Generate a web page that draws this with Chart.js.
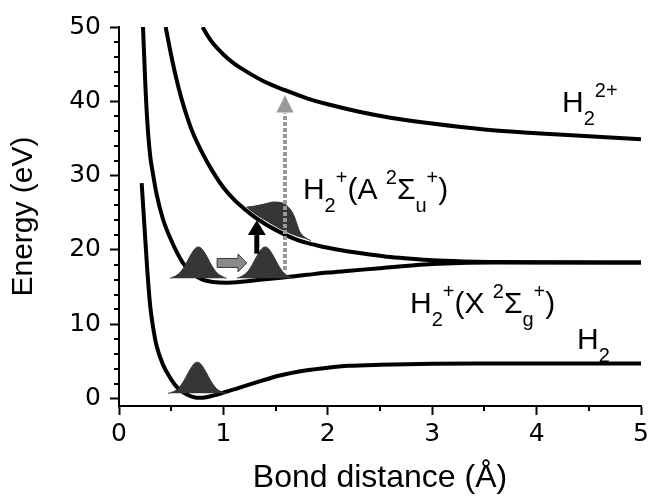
<!DOCTYPE html>
<html>
<head>
<meta charset="utf-8">
<script src="https://cdn.jsdelivr.net/npm/chart.js@4.4.0/dist/chart.umd.min.js"></script>
<style>
  html, body { margin: 0; padding: 0; background: #fff; }
</style>
</head>
<body>
<canvas id="chart" width="656" height="497"></canvas>
<script>
// axis ticks
const xTicks = [0, 1, 2, 3, 4, 5];
const xMinor = [0.5, 1.5, 2.5, 3.5, 4.5];
const yTicks = [0, 10, 20, 30, 40, 50];
const yMinor = [2, 4, 6, 8, 12, 14, 16, 18, 22, 24, 26, 28, 32, 34, 36, 38, 42, 44, 46, 48];

// potential curves, bond distance (Å) -> energy (eV)
const h2R = [0.217, 0.24, 0.27, 0.3, 0.33, 0.36, 0.42, 0.49, 0.55, 0.6, 0.65, 0.7, 0.75, 0.8, 0.9, 1.0, 1.15, 1.3, 1.54, 1.8, 2.0, 2.2, 2.5, 3.0, 3.5, 4.0, 5.0];
const h2E = [29, 24, 17.5, 12.3, 9.3, 7.1, 4.6, 2.8, 1.6, 1.0, 0.55, 0.25, 0.1, 0.12, 0.4, 0.8, 1.45, 2.1, 3.1, 3.8, 4.15, 4.4, 4.55, 4.68, 4.72, 4.73, 4.73];

const xR = [0.23, 0.25, 0.27, 0.3, 0.32, 0.36, 0.42, 0.5, 0.61, 0.7, 0.8, 0.9, 1.03, 1.2, 1.4, 1.57, 1.8, 2.0, 2.21, 2.5, 2.8, 3.0, 3.27, 3.6, 4.0, 5.0];
const xE = [50, 43, 37.5, 32.5, 30.7, 27.5, 24.2, 21.3, 18.3, 16.9, 16.0, 15.7, 15.6, 15.75, 16.05, 16.3, 16.65, 16.95, 17.2, 17.55, 17.9, 18.1, 18.25, 18.3, 18.3, 18.3];

const aR = [0.447, 0.5, 0.55, 0.6, 0.65, 0.7, 0.8, 0.9, 1.0, 1.1, 1.22, 1.3, 1.4, 1.5, 1.6, 1.7, 1.8, 1.9, 2.0, 2.2, 2.4, 2.6, 2.8, 3.0, 3.3, 3.6, 4.0, 5.0];
const aE = [50, 46.2, 43.0, 40.3, 38.0, 36.0, 33.0, 30.5, 28.4, 26.8, 25.3, 24.4, 23.5, 22.7, 22.0, 21.4, 20.95, 20.6, 20.3, 19.8, 19.4, 19.05, 18.8, 18.6, 18.45, 18.38, 18.33, 18.3];

const dR = [0.8, 0.85, 0.9, 1.0, 1.1, 1.21, 1.4, 1.59, 1.8, 2.0, 2.3, 2.6, 3.0, 3.5, 4.0, 4.5, 5.0];
const dE = [50, 48.8, 47.8, 46.3, 45.1, 44.1, 42.6, 41.5, 40.4, 39.6, 38.6, 37.8, 37.0, 36.2, 35.7, 35.3, 34.9];

// wave packets
const pkt1R = [0.47, 0.52, 0.57, 0.62, 0.67, 0.72, 0.75, 0.78, 0.83, 0.88, 0.93, 0.98, 1.03];
const pkt1E = [0.7, 0.92, 1.4, 2.35, 3.65, 4.7, 4.9, 4.7, 3.65, 2.35, 1.4, 0.92, 0.7];
const pkt2R = [0.49, 0.53, 0.58, 0.63, 0.68, 0.73, 0.76, 0.79, 0.84, 0.89, 0.94, 0.99, 1.03];
const pkt2E = [16.2, 16.42, 16.9, 17.85, 19.15, 20.2, 20.4, 20.2, 19.15, 17.85, 16.9, 16.42, 16.2];
const pkt3R = [1.13, 1.17, 1.22, 1.27, 1.32, 1.37, 1.40, 1.43, 1.48, 1.53, 1.58, 1.63, 1.67];
const pkt3E = [16.2, 16.42, 16.9, 17.85, 19.15, 20.2, 20.4, 20.2, 19.15, 17.85, 16.9, 16.42, 16.2];
const pktAR = [1.22, 1.3, 1.4, 1.48, 1.56, 1.62, 1.67, 1.70, 1.73, 1.78, 1.84];
const pktATop = [25.75, 25.9, 26.2, 26.45, 26.35, 25.8, 24.8, 23.7, 22.5, 21.7, 21.25];
const pktALow = [25.75, 24.85, 23.95, 23.3, 22.7, 22.3, 22.0, 21.85, 21.7, 21.5, 21.25];

// dotted excitation line
const dotR = [1.59, 1.59];
const dotE = [17.3, 38.4];

const FONT = 'Liberation Sans, Arial, sans-serif';
const TICKFONT = 'DejaVu Sans, sans-serif';
const PKT = '#363636';

const pts = (r, e) => r.map((v, i) => ({ x: v, y: e[i] }));

function curve(r, e) {
  return { data: pts(r, e), borderColor: '#000', borderWidth: 4, cubicInterpolationMode: 'monotone', fill: false, order: 3, clip: 0 };
}
function packet(r, e, base) {
  return { data: pts(r, e), borderColor: PKT, backgroundColor: PKT, borderWidth: 1, cubicInterpolationMode: 'monotone', fill: { value: base }, order: 2 };
}

function drawRich(ctx, x, y, parts) {
  let cx = x;
  parts.forEach(([t, k]) => {
    ctx.font = (k === 'n' ? 30 : 20) + 'px ' + FONT;
    const dy = k === 'sub' ? 13 : (k === 'sup' ? -15 : 0);
    ctx.fillText(t, cx, y + dy);
    cx += ctx.measureText(t).width;
  });
}

const extras = {
  id: 'extras',
  afterDatasetsDraw(chart) {
    const ctx = chart.ctx;
    const sx = chart.scales.x, sy = chart.scales.y;
    const px = v => sx.getPixelForValue(v), py = v => sy.getPixelForValue(v);
    ctx.save();

    // gray block arrow (wave packet moving out)
    const y0 = py(18.25), xa = px(0.94), xb = px(1.14), xt = px(1.223);
    ctx.beginPath();
    ctx.moveTo(xa, y0 - 4.5); ctx.lineTo(xb, y0 - 4.5); ctx.lineTo(xb, y0 - 9);
    ctx.lineTo(xt, y0); ctx.lineTo(xb, y0 + 9); ctx.lineTo(xb, y0 + 4.5);
    ctx.lineTo(xa, y0 + 4.5); ctx.closePath();
    ctx.fillStyle = '#8a8a8a'; ctx.fill();
    ctx.strokeStyle = '#3a3a3a'; ctx.lineWidth = 1; ctx.stroke();

    // black excitation arrow
    const bx = px(1.32);
    ctx.fillStyle = '#000';
    ctx.fillRect(bx - 2.5, py(22.0), 5, py(19.5) - py(22.0));
    ctx.beginPath();
    ctx.moveTo(bx - 9, py(22.0)); ctx.lineTo(bx, py(24.0)); ctx.lineTo(bx + 9, py(22.0));
    ctx.closePath(); ctx.fill();

    // head of dotted arrow
    const gx = px(1.59);
    ctx.fillStyle = '#999';
    ctx.beginPath();
    ctx.moveTo(gx - 8.5, py(38.5)); ctx.lineTo(gx, py(40.8)); ctx.lineTo(gx + 8.5, py(38.5));
    ctx.closePath(); ctx.fill();

    // state labels
    ctx.fillStyle = '#000';
    ctx.textBaseline = 'alphabetic';
    ctx.textAlign = 'left';
    drawRich(ctx, px(4.243), py(38.57), [['H', 'n'], ['2', 'sub'], ['2+', 'sup']]);
    drawRich(ctx, px(1.762), py(26.86), [['H', 'n'], ['2', 'sub'], ['+', 'sup'], ['(A ', 'n'], ['2', 'sup'], ['Σ', 'n'], ['u', 'sub'], ['+', 'sup'], [')', 'n']]);
    drawRich(ctx, px(2.787), py(11.52), [['H', 'n'], ['2', 'sub'], ['+', 'sup'], ['(X ', 'n'], ['2', 'sup'], ['Σ', 'n'], ['g', 'sub'], ['+', 'sup'], [')', 'n']]);
    drawRich(ctx, px(4.387), py(6.68), [['H', 'n'], ['2', 'sub']]);

    // minor ticks
    ctx.strokeStyle = '#000'; ctx.lineWidth = 2;
    ctx.beginPath();
    xMinor.forEach(v => { const p = Math.round(px(v)); ctx.moveTo(p, sy.bottom); ctx.lineTo(p, sy.bottom + 5); });
    yMinor.forEach(v => { const p = Math.round(py(v)); ctx.moveTo(sx.left - 5, p); ctx.lineTo(sx.left, p); });
    ctx.stroke();
    ctx.restore();
  }
};

new Chart(document.getElementById('chart'), {
  type: 'line',
  data: {
    datasets: [
      { data: pts(dotR, dotE), borderColor: '#999', borderWidth: 4, borderDash: [4, 2], tension: 0, fill: false, order: 0 },
      packet(pkt1R, pkt1E, 0.7),
      packet(pkt2R, pkt2E, 16.2),
      packet(pkt3R, pkt3E, 16.2),
      { data: pts(pktAR, pktATop), borderColor: PKT, backgroundColor: PKT, borderWidth: 1, cubicInterpolationMode: 'monotone', fill: '+1', order: 2 },
      { data: pts(pktAR, pktALow), borderColor: 'rgba(0,0,0,0)', borderWidth: 1, cubicInterpolationMode: 'monotone', fill: false, order: 2 },
      curve(h2R, h2E),
      curve(xR, xE),
      curve(aR, aE),
      curve(dR, dE)
    ]
  },
  options: {
    responsive: false,
    animation: false,
    devicePixelRatio: 1,
    layout: { padding: { left: 0, right: 15, top: 27, bottom: 0 } },
    plugins: { legend: { display: false }, tooltip: { enabled: false } },
    elements: { point: { radius: 0 } },
    scales: {
      x: {
        type: 'linear', min: 0, max: 5,
        afterBuildTicks: s => { s.ticks = xTicks.map(v => ({ value: v })); },
        afterFit: s => { s.height = 91; },
        grid: { drawOnChartArea: false, drawTicks: true, tickLength: 9, tickWidth: 2, tickColor: '#000', color: '#000' },
        border: { display: true, color: '#000', width: 2 },
        ticks: { font: { family: TICKFONT, size: 25 }, color: '#000', padding: 4, maxRotation: 0 },
        title: { display: true, text: 'Bond distance (Å)', font: { family: FONT, size: 32 }, color: '#000', padding: { top: 0, bottom: 0 } }
      },
      y: {
        type: 'linear', min: -1, max: 50,
        afterBuildTicks: s => { s.ticks = yTicks.map(v => ({ value: v })); },
        afterFit: s => { s.width = 119; },
        grid: { drawOnChartArea: false, drawTicks: true, tickLength: 9, tickWidth: 2, tickColor: '#000', color: '#000' },
        border: { display: true, color: '#000', width: 2 },
        ticks: { font: { family: TICKFONT, size: 25 }, color: '#000', padding: 9 },
        title: { display: true, text: 'Energy (eV)', font: { family: FONT, size: 30 }, color: '#000', padding: { top: 6, bottom: 0 } }
      }
    }
  },
  plugins: [extras]
});
</script>
</body>
</html>
